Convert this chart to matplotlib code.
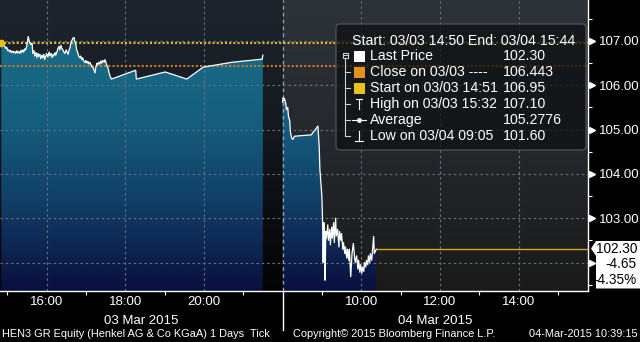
import matplotlib
matplotlib.use('Agg')
import matplotlib.pyplot as plt
import numpy as np
import matplotlib.colors as mcolors
from matplotlib.transforms import Affine2D, blended_transform_factory
from matplotlib.patches import Rectangle, FancyBboxPatch, Polygon
from matplotlib.lines import Line2D
from matplotlib.ticker import FixedLocator, NullFormatter, FixedFormatter

plt.rcParams['font.family'] = ['Liberation Sans', 'DejaVu Sans']

# ---------------- data ----------------
day1_times = [
    "14:51", "14:53", "14:56", "14:58", "14:59", "15:01", "15:02", "15:04", "15:05", "15:07",
    "15:09", "15:10", "15:12", "15:13", "15:15", "15:16", "15:18", "15:19", "15:21", "15:22",
    "15:24", "15:25", "15:27", "15:28", "15:30", "15:31", "15:32", "15:34", "15:36", "15:38",
    "15:39", "15:41", "15:42", "15:44", "15:45", "15:47", "15:48", "15:50", "15:51", "15:53",
    "15:54", "15:56", "15:57", "15:59", "16:00", "16:02", "16:04", "16:05", "16:07", "16:08",
    "16:10", "16:11", "16:13", "16:14", "16:16", "16:17", "16:19", "16:20", "16:22", "16:23",
    "16:25", "16:26", "16:28", "16:30", "16:31", "16:33", "16:34", "16:36", "16:37", "16:39",
    "16:40", "16:42", "16:43", "16:45", "16:46", "16:48", "16:49", "16:51", "16:52", "16:54",
    "16:55", "16:57", "16:59", "17:00", "17:02", "17:03", "17:05", "17:06", "17:08", "17:09",
    "17:11", "17:12", "17:14", "17:15", "17:17", "17:18", "17:20", "17:21", "17:23", "17:24",
    "17:26", "17:28", "17:29", "17:31", "17:32", "17:34", "17:35", "17:37", "17:39", "18:16",
    "18:17", "19:01", "19:34", "19:59", "20:43", "21:29", "21:30",
]
day1_prices = [
    106.95, 106.97, 106.88, 106.83, 106.86, 106.78, 106.80, 106.75, 106.79, 106.74,
    106.77, 106.73, 106.76, 106.72, 106.78, 106.73, 106.76, 106.72, 106.79, 106.74,
    106.80, 106.75, 106.82, 106.80, 106.90, 107.00, 107.10, 106.98, 106.92, 106.95,
    106.72, 106.78, 106.66, 106.74, 106.62, 106.72, 106.65, 106.70, 106.60, 106.68,
    106.62, 106.70, 106.58, 106.66, 106.72, 106.64, 106.75, 106.67, 106.72, 106.63,
    106.70, 106.66, 106.74, 106.68, 106.76, 106.82, 106.88, 106.80, 106.90, 106.84,
    106.80, 106.76, 106.72, 106.80, 106.76, 106.70, 106.78, 106.86, 106.95, 107.02,
    107.06, 107.08, 107.00, 106.90, 106.80, 106.72, 106.66, 106.62, 106.66, 106.58,
    106.62, 106.54, 106.51, 106.56, 106.50, 106.54, 106.48, 106.52, 106.46, 106.42,
    106.40, 106.36, 106.28, 106.40, 106.50, 106.46, 106.52, 106.48, 106.55, 106.50,
    106.56, 106.52, 106.58, 106.50, 106.45, 106.38, 106.30, 106.20, 106.14, 106.34,
    106.14, 106.30, 106.14, 106.41, 106.52, 106.59, 106.68,
]
day2_times = [
    "08:00", "08:01", "08:02", "08:03", "08:05", "08:06", "08:08", "08:09", "08:11", "08:12",
    "08:14", "08:16", "08:18", "08:26", "08:35", "08:44", "08:46", "08:50", "08:54", "08:56",
    "08:57", "08:59", "09:00", "09:01", "09:02", "09:03", "09:04", "09:05", "09:06", "09:07",
    "09:09", "09:10", "09:12", "09:13", "09:15", "09:16", "09:18", "09:19", "09:21", "09:22",
    "09:24", "09:26", "09:27", "09:29", "09:30", "09:32", "09:33", "09:35", "09:36", "09:38",
    "09:39", "09:41", "09:42", "09:44", "09:46", "09:48", "09:50", "09:51", "09:53", "09:55",
    "09:56", "09:58", "09:59", "10:01", "10:02", "10:04", "10:05", "10:07", "10:08", "10:10",
    "10:11", "10:13", "10:14", "10:16", "10:19", "10:20", "10:23",
]
day2_prices = [
    105.62, 105.72, 105.66, 105.70, 105.58, 105.45, 105.50, 105.30, 105.20, 104.95,
    104.80, 104.78, 104.85, 104.86, 104.87, 104.88, 104.93, 105.00, 105.08, 104.60,
    104.10, 103.70, 103.50, 103.00, 102.00, 102.90, 102.40, 101.60, 102.70, 102.55,
    102.85, 102.50, 102.75, 102.40, 102.80, 102.55, 102.90, 102.45, 103.00, 102.60,
    102.75, 102.35, 102.70, 102.50, 102.65, 102.30, 102.45, 102.20, 102.35, 102.10,
    102.30, 102.05, 102.30, 101.68, 102.20, 102.43, 102.10, 102.00, 102.15, 101.85,
    102.05, 101.78, 101.95, 101.76, 101.90, 101.80, 102.00, 101.90, 102.05, 101.95,
    102.15, 102.00, 102.20, 102.05, 102.59, 102.20, 102.30,
]

start_price = 106.95
close_price = 106.443
last_price = 102.30
net_change = -4.65
pct_change = -4.35

y_ticks = [102, 103, 104, 105, 106, 107]
y_minor = [101.5, 102.5, 103.5, 104.5, 105.5, 106.5, 107.5]
day1_tick_hours = ["15:00", "17:00", "19:00", "21:00"]
day2_tick_hours = ["09:00", "11:00", "13:00", "15:00"]
day1_label_hours = ["16:00", "18:00", "20:00"]
day2_label_hours = ["10:00", "12:00", "14:00"]
day1_date = "03 Mar 2015"
day2_date = "04 Mar 2015"

legend_header = "Start: 03/03 14:50 End: 03/04 15:44"
legend_labels = ["Last Price", "Close on 03/03 ----", "Start on 03/03 14:51",
                 "High on 03/03 15:32", "Average", "Low on 03/04 09:05"]
legend_values = ["102.30", "106.443", "106.95", "107.10", "105.2776", "101.60"]

footer_left = "HEN3 GR Equity (Henkel AG & Co KGaA) 1 Days  Tick"
footer_mid = "Copyright\u00a9 2015 Bloomberg Finance L.P."
footer_right = "04-Mar-2015 10:39:15"


# ---------------- helpers ----------------
def hours(t):
    hh, mm = t.split(':')
    return int(hh) + int(mm) / 60.0


def pos1(t):          # session 1: 03 Mar
    return hours(t)


def pos2(t):          # session 2: 04 Mar, continuous after 22:00 of day 1
    return hours(t) - 8.0 + 22.0


W, H = 640, 342
fig = plt.figure(figsize=(W / 100, H / 100), dpi=100, facecolor='black')
ax = fig.add_axes([0, 51 / H, 588 / W, 291 / H])
ax.set_facecolor('black')

XMIN, XMAX = pos1("14:49"), pos2("15:46")
YMIN, YMAX = 101.357, 107.925
SEP = pos2("08:00")
PLOT_H = 291.0


def vgrad(stops, n=300):
    p = np.linspace(0, PLOT_H, n)
    ys = [s[0] for s in stops]
    cols = np.array([mcolors.to_rgb(s[1]) for s in stops])
    arr = np.zeros((n, 1, 3))
    for c in range(3):
        arr[:, 0, c] = np.interp(p, ys, cols[:, c])
    return arr


# backgrounds
bg1 = vgrad([(0, '#1e252d'), (120, '#141a21'), (291, '#030303')])
bg2 = vgrad([(0, '#2e3339'), (150, '#24272b'), (291, '#1a1a1a')])
ax.imshow(bg1, extent=(XMIN, SEP, YMIN, YMAX), aspect='auto', origin='upper',
          zorder=0, interpolation='bilinear')
ax.imshow(bg2, extent=(SEP, XMAX, YMIN, YMAX), aspect='auto', origin='upper',
          zorder=0, interpolation='bilinear')

x1 = np.array([pos1(t) for t in day1_times])
y1 = np.array(day1_prices)
x2 = np.array([pos2(t) for t in day2_times])
y2 = np.array(day2_prices)

fillgrad = vgrad([(0, '#1a7490'), (45, '#186c88'), (120, '#155e7e'),
                  (200, '#113f68'), (291, '#0a0f3e')])
for xs, ys in ((x1, y1), (x2, y2)):
    poly = ax.fill_between(xs, ys, YMIN, facecolor='none', edgecolor='none', lw=0)
    im = ax.imshow(fillgrad, extent=(XMIN, XMAX, YMIN, YMAX), aspect='auto',
                   origin='upper', zorder=1, interpolation='bilinear')
    im.set_clip_path(poly.get_paths()[0], ax.transData)

# grid
grid_kw = dict(color='#6c7279', lw=0.8, dashes=(2.2, 2.6), zorder=2)
for v in y_ticks:
    ax.axhline(v, **grid_kw)
for t in day1_label_hours:
    ax.axvline(pos1(t), **grid_kw)
for t in day2_label_hours:
    ax.axvline(pos2(t), **grid_kw)
ax.axvline(SEP, color='#a0a5aa', lw=0.9, dashes=(3, 2.5), zorder=2)

# reference lines
ax.axhline(start_price, color='#dcba28', lw=1.5, dashes=(1, 1.0), zorder=3)
ax.axhline(close_price, color='#c97c22', lw=1.5, dashes=(1, 1.0), zorder=3)
ax.hlines(last_price, x2[-1], XMAX, color='#d9a625', lw=1.0, zorder=3)

# price line
ax.plot(x1, y1, color='white', lw=0.9, zorder=4)
ax.plot(x2, y2, color='white', lw=0.9, zorder=4)
ax.plot([x1[0]], [y1[0]], 'o', ms=4.5, color='#e6c020', zorder=5, clip_on=False)

ax.set_xlim(XMIN, XMAX)
ax.set_ylim(YMIN, YMAX)

# axes styling
for s in ('left', 'top'):
    ax.spines[s].set_visible(False)
for s in ('right', 'bottom'):
    ax.spines[s].set_color('white')
    ax.spines[s].set_linewidth(1.0)

ax.yaxis.tick_right()
ax.set_yticks(y_ticks)
# the 102.00 label sits behind the last-price box in the reference
ax.set_yticklabels(["" if v == 102 else f"{v:.2f}" for v in y_ticks])
ax.yaxis.set_minor_locator(FixedLocator(y_minor))
ax.tick_params(axis='y', which='major', length=0, pad=8, labelcolor='white',
               labelsize=9.5)
ax.tick_params(axis='y', which='minor', length=3, width=0.8, color='white',
               direction='out')
ytrans = blended_transform_factory(ax.transAxes, ax.transData)
ax.plot([1.0075] * len(y_ticks), y_ticks, ls='none', marker='>', ms=4.5,
        color='white', transform=ytrans, clip_on=False, zorder=6)

major_x = [pos1(t) for t in day1_tick_hours] + [pos2(t) for t in day2_tick_hours]
label_x = [pos1(t) for t in day1_label_hours] + [pos2(t) for t in day2_label_hours]
ax.xaxis.set_major_locator(FixedLocator(major_x))
ax.xaxis.set_major_formatter(NullFormatter())
ax.xaxis.set_minor_locator(FixedLocator(label_x))
ax.xaxis.set_minor_formatter(FixedFormatter(day1_label_hours + day2_label_hours))
ax.tick_params(axis='x', which='major', length=3, width=0.8, color='white',
               direction='out')
ax.tick_params(axis='x', which='minor', length=0, pad=3.5, labelcolor='white',
               labelsize=9.5)

# ---------------- overlays in pixel coordinates ----------------
T = Affine2D().scale(0.01, -0.01).translate(0, H / 100) + fig.dpi_scale_trans

fig.add_artist(Line2D([283, 283], [291, 330], transform=T, color='white', lw=1.0))
fig.text(141.5, 321, day1_date, transform=T, color='white', fontsize=9.5,
         ha='center', va='center')
fig.text(435.5, 321, day2_date, transform=T, color='white', fontsize=9.5,
         ha='center', va='center')

foot_kw = dict(transform=T, color='white', fontsize=7.9, va='center',
               family=['Liberation Sans Narrow', 'Liberation Sans', 'DejaVu Sans'])
fig.text(2, 334, footer_left, ha='left', **foot_kw)
fig.text(293, 334, footer_mid, ha='left', **foot_kw)
fig.text(638, 334, footer_right, ha='right', **foot_kw)

# legend box
fig.add_artist(FancyBboxPatch((336, 24), 250, 126,
                              boxstyle='round,pad=0,rounding_size=4', transform=T,
                              facecolor=(0.05, 0.06, 0.07, 0.72),
                              edgecolor='#565b61', lw=0.8))
fig.text(352, 41, legend_header, transform=T, color='white', fontsize=10.2,
         ha='left', va='center')
rows = [56 + 16 * i for i in range(len(legend_labels))]
for r, lab, val in zip(rows, legend_labels, legend_values):
    fig.text(369.5, r, lab, transform=T, color='white', fontsize=10.2,
             ha='left', va='center')
    fig.text(502.5, r, val, transform=T, color='white', fontsize=10.2,
             ha='left', va='center')
tree_c = '#d0d0d0'
fig.add_artist(Line2D([345, 345], [58, rows[-1]], transform=T, color=tree_c, lw=0.8))
for r in rows[1:]:
    fig.add_artist(Line2D([345, 350], [r, r], transform=T, color=tree_c, lw=0.8))
fig.add_artist(Rectangle((342.5, 52.5), 5, 5, transform=T, facecolor='#111',
                         edgecolor=tree_c, lw=0.8))
fig.add_artist(Line2D([343.5, 346.5], [55, 55], transform=T, color=tree_c, lw=0.8))
sq_colors = ['#ffffff', '#e8901c', '#e6c21e']
for r, c in zip(rows[:3], sq_colors):
    fig.add_artist(Rectangle((354, r - 5), 10.5, 10.5, transform=T,
                             facecolor=c, edgecolor='none'))
ic = 'white'
rh = rows[3]
fig.add_artist(Line2D([359, 359], [rh - 5, rh + 5], transform=T, color=ic, lw=0.8))
fig.add_artist(Line2D([356, 362], [rh - 5, rh - 5], transform=T, color=ic, lw=0.8))
ra = rows[4]
fig.add_artist(Line2D([352, 366], [ra, ra], transform=T, color=ic, lw=0.8))
fig.add_artist(Line2D([359], [ra], transform=T, color=ic, marker='o', ms=2.5,
                      ls='none'))
rl = rows[5]
fig.add_artist(Line2D([359, 359], [rl - 5, rl + 5], transform=T, color=ic, lw=0.8))
fig.add_artist(Line2D([355, 363], [rl + 5, rl + 5], transform=T, color=ic, lw=0.8))

# last price box
fig.add_artist(Polygon([(591, 248.5), (596, 241), (640, 241), (640, 288.5),
                        (596, 288.5), (596, 256)], closed=True, transform=T,
                       facecolor='white', edgecolor='none'))
fig.text(637, 249, f"{last_price:.2f}", transform=T, color='black', fontsize=9.8,
         ha='right', va='center')
fig.text(637, 264, f"{net_change:.2f}", transform=T, color='black', fontsize=9.8,
         ha='right', va='center')
fig.text(637, 280, f"{pct_change:.2f}%", transform=T, color='black', fontsize=9.8,
         ha='right', va='center')

fig.savefig('out.png', dpi=100, facecolor='black')
